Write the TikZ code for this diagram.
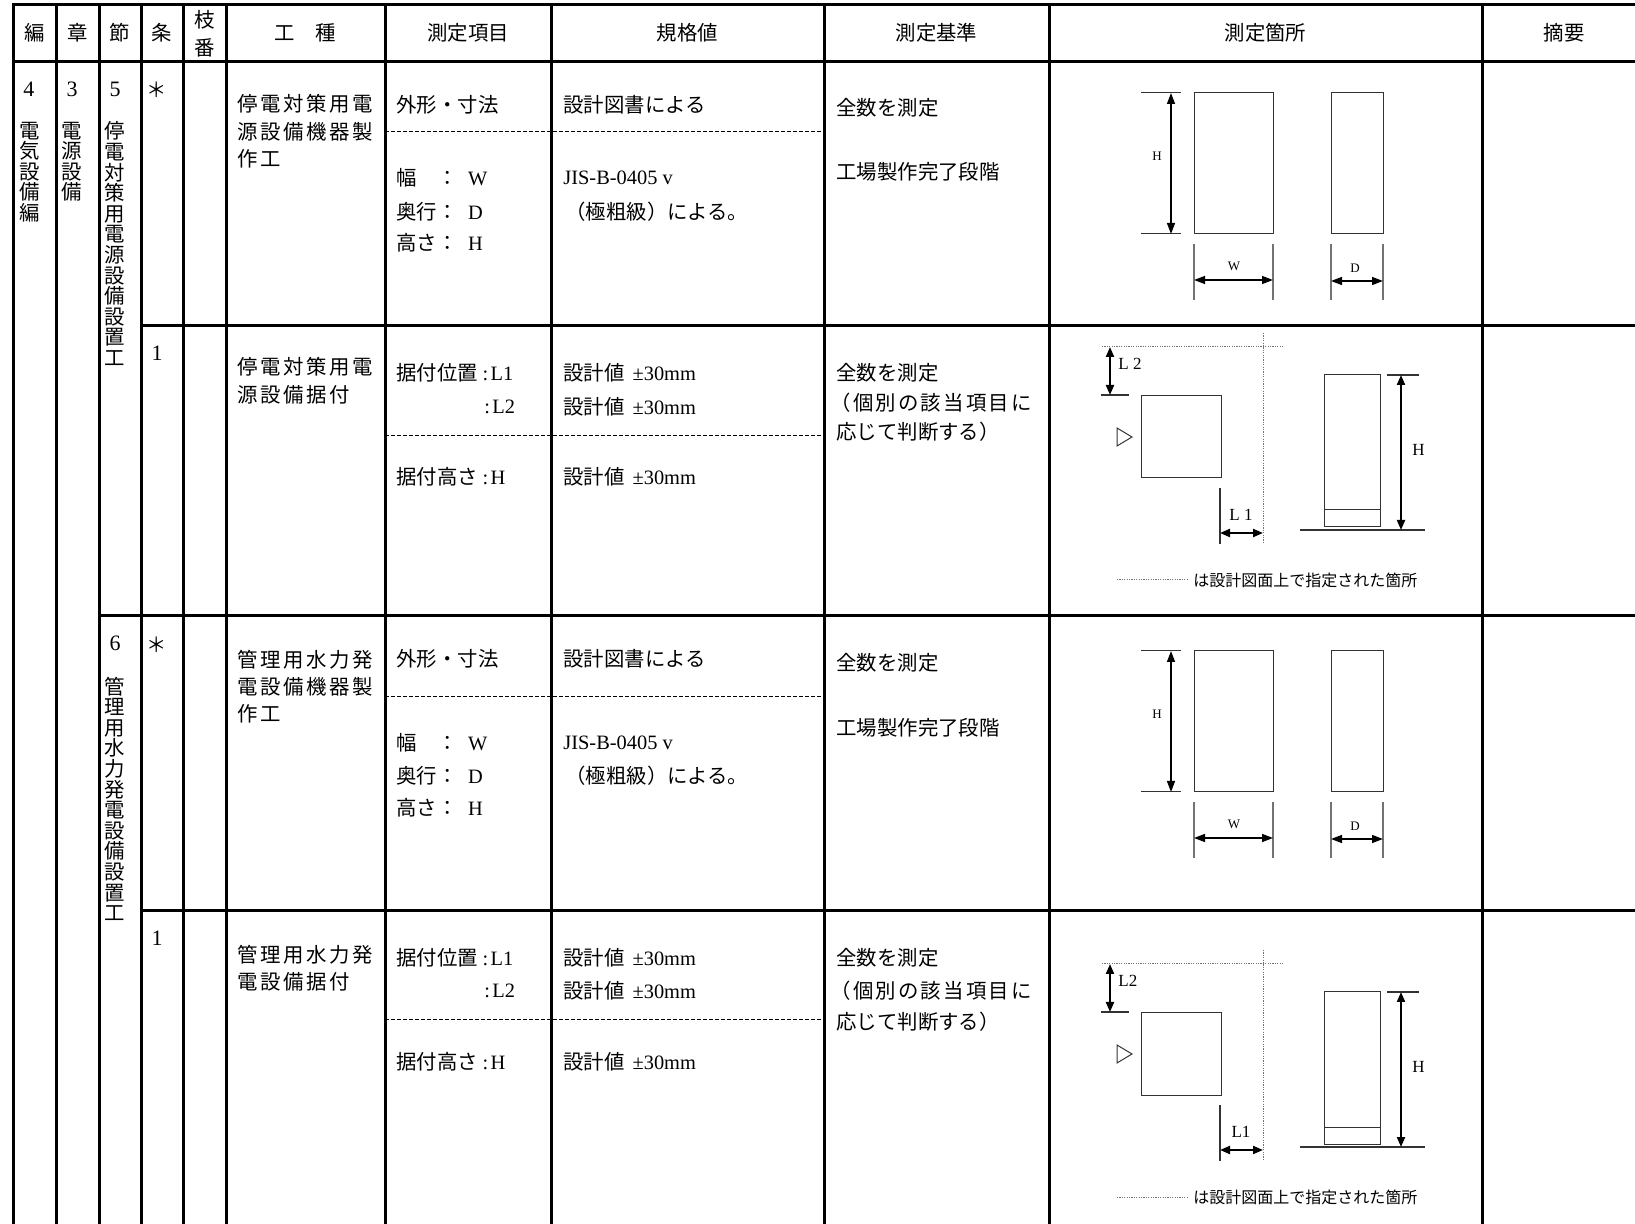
\documentclass[tikz,border=0pt]{standalone}
\usepackage{fontspec}
\setmainfont{Liberation Serif}
\newfontfamily\jp{Noto Sans CJK JP}
\newfontfamily\jpwide[LetterSpace=13]{Noto Sans CJK JP}
\newfontfamily\jpsp[LetterSpace=11]{Noto Sans CJK JP}
\newcommand\rom[1]{{\rmfamily #1}}
\usetikzlibrary{arrows.meta}

\begin{document}
\begin{tikzpicture}[x=0.5pt,y=-0.5pt,
    frame/.style={line width=1.5pt,line cap=rect},
    subline/.style={line width=0.5pt,dash pattern=on 2pt off 1pt},
    head/.style={inner sep=0pt,font=\jp\fontsize{10.2}{14}\selectfont},
    txt/.style={anchor=west,inner sep=0pt,font=\jp\fontsize{10.2}{12}\selectfont},
    koshu/.style={txt,font=\jpwide\fontsize{10.2}{12}\selectfont},
    vtxt/.style={anchor=north,inner sep=0pt,align=center,font=\jp\fontsize{10.2}{10.3}\selectfont},
    num/.style={inner sep=0pt,font=\fontsize{11}{12}\selectfont},
    fig/.style={line width=0.5pt,black!80},
    ext/.style={line width=0.6pt,black!55},
    dim/.style={line width=0.7pt,{Triangle[length=5.5pt,width=4pt]}-{Triangle[length=5.5pt,width=4pt]}},
    dimb/.style={line width=1pt,{Triangle[length=5pt,width=4pt]}-{Triangle[length=5pt,width=4pt]}},
    loc/.style={line width=0.5pt,black!55,dash pattern=on 0.6pt off 0.6pt},
    lbl/.style={inner sep=0pt,font=\fontsize{6.5}{7}\selectfont},
    lblb/.style={inner sep=0pt,font=\fontsize{8.5}{9}\selectfont},
    legend/.style={anchor=west,inner sep=0pt,font=\jp\fontsize{8}{9}\selectfont}]
\useasboundingbox (0,0) rectangle (1635,1224);
\fill[white] (0,0) rectangle (1635,1224);

% table rules
\foreach \x in {13.6,56,99,141,183.5,226,385,551,824,1049,1482}
  \draw[frame] (\x,5) -- (\x,1224);
\draw[frame] (13.6,5) -- (1635,5);
\draw[frame] (13.6,61.5) -- (1635,61.5);
\draw[frame] (141,326) -- (1635,326);
\draw[frame] (99,616) -- (1635,616);
\draw[frame] (141,911) -- (1635,911);
\foreach \y in {132,436,697,1020}
  \draw[subline] (385,\y) -- (824,\y);

% header
\node[head] (hHen) at (35,33) {編};
\node[head] (hSho) at (77.5,33) {章};
\node[head] (hSetsu) at (120,33) {節};
\node[head] (hJo) at (162,33) {条};
\node[head,align=center] (hEda) at (205,34) {枝\\番};
\node[head] (hKoshu) at (305,33) {工\quad 種};
\node[head] (hKomoku) at (468,33) {測定項目};
\node[head] (hKikaku) at (687.5,33) {規格値};
\node[head] (hKijun) at (936.5,33) {測定基準};
\node[head] (hKasho) at (1265.5,33) {測定箇所};
\node[head] (hTekiyo) at (1564,33) {摘要};

% hen, sho, setsu, jo
\node[num] (n4) at (29,89) {4};
\node[vtxt] (vHen) at (30,121.5) {電\\気\\設\\備\\編};
\node[num] (n3) at (72,89) {3};
\node[vtxt] (vSho) at (72,121.5) {電\\源\\設\\備};
\node[num] (n5) at (115,89) {5};
\node[vtxt] (vSetsu5) at (115,121.5) {停\\電\\対\\策\\用\\電\\源\\設\\備\\設\\置\\工};
\node[num] (n6) at (115,643) {6};
\node[vtxt] (vSetsu6) at (115,676.5) {管\\理\\用\\水\\力\\発\\電\\設\\備\\設\\置\\工};
\node[head] (jo1) at (157,90) {＊};
\node[num] (jo2) at (157,353) {1};
\node[head] (jo3) at (157,645) {＊};
\node[num] (jo4) at (157,938) {1};

% koshu
\node[koshu] (k1a) at (237,104) {停電対策用電};
\node[koshu] (k1b) at (237,132) {源設備機器製};
\node[koshu] (k1c) at (237,159) {作工};
\node[koshu] (k2a) at (237,367) {停電対策用電};
\node[koshu] (k2b) at (237,395) {源設備据付};
\node[koshu] (k3a) at (237,660) {管理用水力発};
\node[koshu] (k3b) at (237,687) {電設備機器製};
\node[koshu] (k3c) at (237,714) {作工};
\node[koshu] (k4a) at (237,955) {管理用水力発};
\node[koshu] (k4b) at (237,982) {電設備据付};

% sokutei komoku
\node[txt] (m1a) at (396,105) {外形・寸法};
\node[txt] (m1b) at (396,178) {\makebox[20.6pt][l]{幅}：\hspace{5pt}\rom{W}};
\node[txt] (m1c) at (396,212) {\makebox[20.6pt][l]{奥行}：\hspace{5pt}\rom{D}};
\node[txt] (m1d) at (396,243) {\makebox[20.6pt][l]{高さ}：\hspace{5pt}\rom{H}};
\node[txt] (m2a) at (396,373) {据付位置\hspace{2.3pt}\rom{:\hspace{1.2pt}L1}};
\node[txt] (m2b) at (484,407) {\rom{:\hspace{1.2pt}L2}};
\node[txt] (m2c) at (396,477) {据付高さ\hspace{2.3pt}\rom{:\hspace{1.2pt}H}};
\node[txt] (m3a) at (396,659) {外形・寸法};
\node[txt] (m3b) at (396,743) {\makebox[20.6pt][l]{幅}：\hspace{5pt}\rom{W}};
\node[txt] (m3c) at (396,776) {\makebox[20.6pt][l]{奥行}：\hspace{5pt}\rom{D}};
\node[txt] (m3d) at (396,808) {\makebox[20.6pt][l]{高さ}：\hspace{5pt}\rom{H}};
\node[txt] (m4a) at (396,958) {据付位置\hspace{2.3pt}\rom{:\hspace{1.2pt}L1}};
\node[txt] (m4b) at (484,991) {\rom{:\hspace{1.2pt}L2}};
\node[txt] (m4c) at (396,1062) {据付高さ\hspace{2.3pt}\rom{:\hspace{1.2pt}H}};

% kikakuchi
\node[txt] (s1a) at (563,105) {設計図書による};
\node[txt] (s1b) at (563,178) {\rom{JIS-B-0405 v}};
\node[txt] (s1c) at (565,212) {（極粗級）による。};
\node[txt] (s2a) at (563,373) {設計値\hspace{4pt}\rom{±30mm}};
\node[txt] (s2b) at (563,407) {設計値\hspace{4pt}\rom{±30mm}};
\node[txt] (s2c) at (563,477) {設計値\hspace{4pt}\rom{±30mm}};
\node[txt] (s3a) at (563,659) {設計図書による};
\node[txt] (s3b) at (563,743) {\rom{JIS-B-0405 v}};
\node[txt] (s3c) at (565,776) {（極粗級）による。};
\node[txt] (s4a) at (563,958) {設計値\hspace{4pt}\rom{±30mm}};
\node[txt] (s4b) at (563,991) {設計値\hspace{4pt}\rom{±30mm}};
\node[txt] (s4c) at (563,1062) {設計値\hspace{4pt}\rom{±30mm}};

% sokutei kijun
\node[txt] (c1a) at (836,108) {全数を測定};
\node[txt] (c1b) at (836,172) {工場製作完了段階};
\node[txt] (c2a) at (836,373) {全数を測定};
\node[txt,font=\jpsp\fontsize{10.2}{12}\selectfont] (c2b) at (830,403) {（個別の該当項目に};
\node[txt] (c2c) at (836,432) {応じて判断する）};
\node[txt] (c3a) at (836,663) {全数を測定};
\node[txt] (c3b) at (836,728) {工場製作完了段階};
\node[txt] (c4a) at (836,958) {全数を測定};
\node[txt,font=\jpsp\fontsize{10.2}{12}\selectfont] (c4b) at (830,991) {（個別の該当項目に};
\node[txt] (c4c) at (836,1022) {応じて判断する）};

% sketches: outline and size
\foreach \dy in {0,558} {
  \draw[fig] (1194,93+\dy) rectangle (1273,234+\dy);
  \draw[fig] (1331,93+\dy) rectangle (1383,234+\dy);
  \draw[fig] (1141,93+\dy) -- (1181,93+\dy);
  \draw[fig] (1141,234+\dy) -- (1181,234+\dy);
  \draw[dim] (1171,93+\dy) -- (1171,234+\dy);
  \node[lbl] (fH\dy) at (1157,156+\dy) {H};
  \draw[ext] (1194,244+\dy) -- (1194,300+\dy);
  \draw[ext] (1273,244+\dy) -- (1273,300+\dy);
  \draw[dim] (1194,280+\dy) -- (1273,280+\dy);
  \node[lbl] (fW\dy) at (1234,266+\dy) {W};
  \draw[ext] (1331,244+\dy) -- (1331,300+\dy);
  \draw[ext] (1383,244+\dy) -- (1383,300+\dy);
  \draw[dim] (1331,281+\dy) -- (1383,281+\dy);
  \node[lbl] (fD\dy) at (1355,268+\dy) {D};
}

% sketches: position and height
\foreach \dy/\la/\lb in {0/L 2/L 1,617/L2/L1} {
  \draw[loc] (1102,347+\dy) -- (1283,347+\dy);
  \draw[loc] (1263,333+\dy) -- (1263,544+\dy);
  \draw[fig,line width=0.8pt] (1101,395+\dy) -- (1129,395+\dy);
  \draw[dimb] (1110,347+\dy) -- (1110,395+\dy);
  \node[lblb,anchor=west] (pL\dy) at (1118,364+\dy) {\la};
  \draw[fig] (1141,396+\dy) rectangle (1221,478+\dy);
  \draw[fig] (1117,428+\dy) -- (1132,437+\dy) -- (1117,446+\dy) -- cycle;
  \draw[fig,line width=0.8pt] (1220,488+\dy) -- (1220,544+\dy);
  \draw[dimb] (1220,533+\dy) -- (1263,533+\dy);
  \node[lblb] (pR\dy) at (1241,515+\dy) {\lb};
  \draw[fig] (1324,375+\dy) rectangle (1380,527+\dy);
  \draw[fig] (1324,510+\dy) -- (1380,510+\dy);
  \draw[fig,line width=0.8pt] (1300,530+\dy) -- (1425,530+\dy);
  \draw[fig,line width=0.8pt] (1387,375+\dy) -- (1419,375+\dy);
  \draw[dimb] (1401,375+\dy) -- (1401,530+\dy);
  \node[lblb,anchor=west] (pH\dy) at (1412,450+\dy) {H};
  \draw[loc] (1117,580+\dy) -- (1187,580+\dy);
  \node[legend] (pN\dy) at (1193,580+\dy) {は設計図面上で指定された箇所};
}
\end{tikzpicture}
\end{document}
